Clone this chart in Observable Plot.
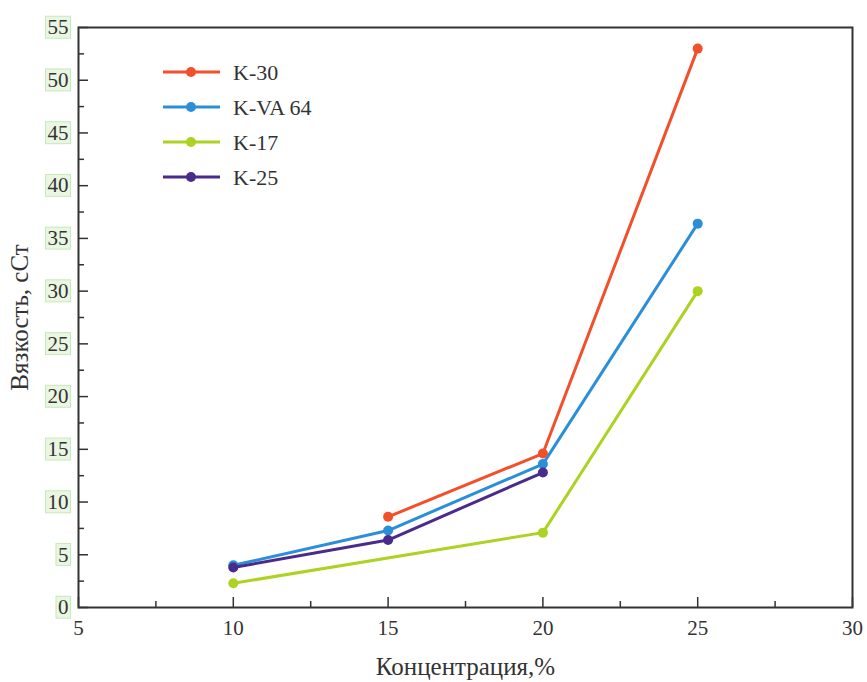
<!DOCTYPE html>
<html><head><meta charset="utf-8">
<script src="https://cdn.jsdelivr.net/npm/d3@7"></script>
<script src="https://cdn.jsdelivr.net/npm/@observablehq/plot@0.6"></script>
<style>
body{margin:0;background:#fff}
#wrap{position:relative;width:867px;height:682px}
#wrap svg, #wrap svg text{font-family:"Liberation Serif","Times New Roman","DejaVu Serif",serif}
</style>
</head><body><div id="wrap"></div>
<script>
// data
const seriesNames = ["K-30", "K-VA 64", "K-17", "K-25"];
const seriesColors = ["#f2502a", "#2a8fd8", "#acd222", "#4a2b8c"];
const k30X = [15, 20, 25];        const k30Y = [8.6, 14.6, 53.0];
const kva64X = [10, 15, 20, 25];  const kva64Y = [4.0, 7.3, 13.6, 36.4];
const k17X = [10, 20, 25];        const k17Y = [2.3, 7.1, 30.0];
const k25X = [10, 15, 20];        const k25Y = [3.8, 6.4, 12.8];
const xMajorTicks = [5, 10, 15, 20, 25, 30];
const xMinorTicks = [7.5, 12.5, 17.5, 22.5, 27.5];
const yMajorTicks = [0, 5, 10, 15, 20, 25, 30, 35, 40, 45, 50, 55];
const yMinorTicks = [2.5, 7.5, 12.5, 17.5, 22.5, 27.5, 32.5, 37.5, 42.5, 47.5, 52.5];
const xLabel = "Концентрация,%";
const yLabel = "Вязкость, сСт";

const build = (name, xs, ys) => xs.map((x, i) => ({series: name, x, y: ys[i]}));
const rows = {
  "K-30": build("K-30", k30X, k30Y),
  "K-VA 64": build("K-VA 64", kva64X, kva64Y),
  "K-17": build("K-17", k17X, k17Y),
  "K-25": build("K-25", k25X, k25Y)
};
const drawOrder = ["K-17", "K-VA 64", "K-25", "K-30"];
const colorOf = Object.fromEntries(seriesNames.map((n, i) => [n, seriesColors[i]]));

const marks = [];
for (const name of drawOrder) {
  marks.push(Plot.line(rows[name], {x: "x", y: "y", stroke: colorOf[name], strokeWidth: 3}));
  marks.push(Plot.dot(rows[name], {x: "x", y: "y", fill: colorOf[name], r: 5}));
}

const plot = Plot.plot({
  width: 867, height: 682,
  marginLeft: 78, marginRight: 15, marginTop: 27, marginBottom: 75,
  style: {fontFamily: '"Liberation Serif", "Times New Roman", serif', color: "#333", background: "#fff"},
  x: {domain: [5, 30]},
  y: {domain: [0, 55]},
  marks: [
    Plot.axisX(xMinorTicks, {tickSize: -6, text: null, label: null, stroke: "#333", strokeWidth: 1.5}),
    Plot.axisX(xMajorTicks, {tickSize: -10, tickPadding: 23, fontSize: 21, fill: "#333", stroke: "#333", strokeWidth: 1.5,
      label: xLabel, labelAnchor: "center", labelArrow: "none", labelOffset: 67}),
    Plot.axisY(yMinorTicks, {tickSize: -6, text: null, label: null, stroke: "#333", strokeWidth: 1.5}),
    Plot.axisY(yMajorTicks, {tickSize: -10, tickPadding: 20, fontSize: 21, fill: "#333", stroke: "#333", strokeWidth: 1.5,
      label: yLabel, labelAnchor: "center", labelArrow: "none", labelOffset: 68}),
    ...marks,
    Plot.frame({stroke: "#333", strokeWidth: 2})
  ]
});

const wrap = document.getElementById("wrap");
wrap.appendChild(plot);

// axis title font sizes
d3.select(plot).selectAll('g[aria-label="x-axis label"] text, g[aria-label="y-axis label"] text')
  .attr("font-size", 25).attr("fill", "#333");

// light green boxes behind y tick labels (as in the reference)
d3.select(plot).selectAll('g[aria-label="y-axis tick label"] text').each(function () {
  const b = this.getBBox();
  const t = this.getAttribute("transform");
  const r = document.createElementNS("http://www.w3.org/2000/svg", "rect");
  r.setAttribute("x", b.x - 2); r.setAttribute("y", b.y + 1);
  r.setAttribute("width", b.width + 4); r.setAttribute("height", b.height - 2);
  r.setAttribute("fill", "#e9f6e2"); r.setAttribute("stroke", "#c9e8bc");
  if (t) r.setAttribute("transform", t);
  this.parentNode.insertBefore(r, this);
});

// legend
const legend = d3.select(wrap).append("svg")
  .attr("width", 260).attr("height", 160)
  .style("position", "absolute").style("left", "150px").style("top", "50px");
const g = legend.selectAll("g").data(seriesNames).join("g")
  .attr("transform", (d, i) => `translate(0,${22 + i * 35})`);
g.append("line").attr("x1", 13).attr("x2", 70).attr("y1", 0).attr("y2", 0)
  .attr("stroke", d => colorOf[d]).attr("stroke-width", 3);
g.append("circle").attr("cx", 41).attr("cy", 0).attr("r", 5).attr("fill", d => colorOf[d]);
g.append("text").attr("x", 83).attr("y", 0).attr("dy", "0.35em")
  .attr("font-family", '"Liberation Serif", "Times New Roman", serif')
  .attr("font-size", 22).attr("fill", "#333").text(d => d);
</script>
</body></html>
